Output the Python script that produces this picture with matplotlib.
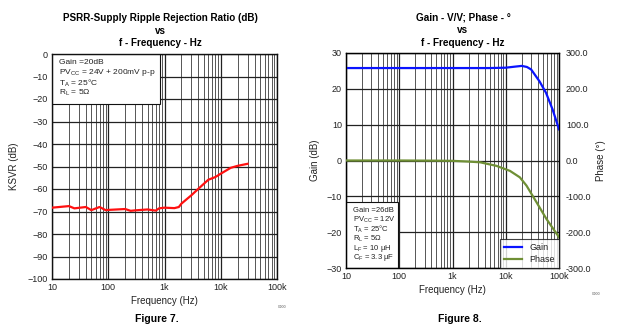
import matplotlib
matplotlib.use("Agg")
import matplotlib.pyplot as plt
from matplotlib.patches import Rectangle
import numpy as np

plt.rcParams['font.family'] = ['Liberation Sans', 'DejaVu Sans']
plt.rcParams['mathtext.fontset'] = 'custom'
plt.rcParams['mathtext.rm'] = 'Liberation Sans'
plt.rcParams['mathtext.it'] = 'Liberation Sans'

# Figure 7 data: KSVR vs frequency
psrr_freq = [10, 20, 25, 40, 50, 70, 90, 100, 200, 250, 300, 500, 700, 800, 1000, 1500, 1800,
             2000, 3000, 4000, 6000, 8000, 10000, 15000, 20000, 30000]
psrr_db = [-68.3, -67.6, -68.6, -68.0, -69.4, -68.0, -69.4, -69.3, -68.9, -69.7, -69.5, -69.1,
           -69.6, -68.6, -68.3, -68.5, -68.0, -66.5, -62.8, -59.9, -55.9, -54.7, -53.2, -50.6,
           -49.7, -48.8]

# Figure 8 data: Gain and Phase vs frequency
gain_freq = [10, 100, 1000, 5000, 10000, 15000, 20000, 25000, 30000, 43000, 57000, 76000, 100000]
gain_db = [25.8, 25.8, 25.8, 25.8, 25.9, 26.2, 26.4, 26.1, 25.4, 22.1, 18.9, 14.2, 8.7]
phase_freq = [10, 100, 500, 1000, 2000, 3300, 6700, 12000, 18400, 24500, 38000, 58000, 100000]
phase_deg = [0, 0, -0.5, -1, -3, -5, -15, -29, -47, -70, -117, -163, -214]

xticks = [10, 100, 1000, 10000, 100000]
xtick_labels = ['10', '100', '1k', '10k', '100k']

notes7 = ['Gain =20dB', 'PV$_{\\mathrm{CC}}$ = 24V + 200mV p-p', 'T$_{\\mathrm{A}}$ = 25°C',
          'R$_{\\mathrm{L}}$ = 5Ω']
notes8 = ['Gain =26dB', 'PV$_{\\mathrm{CC}}$ = 12V', 'T$_{\\mathrm{A}}$ = 25°C', 'R$_{\\mathrm{L}}$ = 5Ω',
          'L$_{\\mathrm{F}}$ = 10 µH', 'C$_{\\mathrm{F}}$ = 3.3 µF']

W, H = 620, 331
fig = plt.figure(figsize=(W / 100, H / 100), dpi=100)

def ax_rect(x0, y0, x1, y1):
    return [x0 / W, 1 - y1 / H, (x1 - x0) / W, (y1 - y0) / H]

def style_log_axes(ax):
    ax.set_xscale('log')
    ax.set_xlim(10, 100000)
    ax.set_xticks(xticks)
    ax.set_xticklabels(xtick_labels)
    ax.set_xticks([m * d for d in [10, 100, 1000, 10000] for m in range(2, 10)], minor=True)
    ax.set_axisbelow(True)
    ax.grid(True, which='major', axis='both', color='#222222', lw=0.9)
    ax.grid(True, which='minor', axis='x', color='#555555', lw=0.7)
    ax.tick_params(which='both', length=0, labelsize=6.5, pad=3, colors='#222222')
    for s in ax.spines.values():
        s.set_color('#111111')
        s.set_linewidth(1.0)

# ---------------- Figure 7 ----------------
ax1 = fig.add_axes(ax_rect(52, 54, 277, 279))
style_log_axes(ax1)
ax1.set_ylim(-100, 0)
ax1.set_yticks(np.arange(-100, 1, 10))
ax1.plot(psrr_freq, psrr_db, color='#ff1010', lw=1.6, zorder=3)
ax1.set_xlabel('Frequency (Hz)', fontsize=7, labelpad=3, color='#222222')
ax1.set_ylabel('KSVR (dB)', fontsize=7, labelpad=6, color='#222222')
ax1.add_patch(Rectangle((0, 0.78), 0.48, 0.22, transform=ax1.transAxes,
                        facecolor='white', edgecolor='#111111', lw=0.8, zorder=1))
for i, s in enumerate(notes7):
    ax1.text(0.031, 0.963 - i * 0.046, s, transform=ax1.transAxes, fontsize=6, va='center',
             ha='left', color='#222222', zorder=4)
fig.text(160 / W, 1 - 18 / H, 'PSRR-Supply Ripple Rejection Ratio (dB)', ha='center', va='center',
         fontsize=7.1, fontweight='bold')
fig.text(160 / W, 1 - 30.5 / H, 'vs', ha='center', va='center', fontsize=7.1, fontweight='bold')
fig.text(160 / W, 1 - 43 / H, 'f - Frequency - Hz', ha='center', va='center', fontsize=7.1,
         fontweight='bold')
fig.text(157 / W, 1 - 319 / H, 'Figure 7.', ha='center', va='center', fontsize=7.5, fontweight='bold')
fig.text(282 / W, 1 - 307 / H, 'G000', ha='center', va='center', fontsize=2.5, color='#555555')

# ---------------- Figure 8 ----------------
ax2 = fig.add_axes(ax_rect(346, 53, 559, 268))
style_log_axes(ax2)
ax2.set_ylim(-30, 30)
ax2.set_yticks(np.arange(-30, 31, 10))
ax2.plot(gain_freq, gain_db, color='#0a14ff', lw=1.6, zorder=3, label='Gain')
ax2.set_xlabel('Frequency (Hz)', fontsize=7, labelpad=3, color='#222222')
ax2.set_ylabel('Gain (dB)', fontsize=7, labelpad=5, color='#222222')
ax3 = ax2.twinx()
ax3.set_ylim(-300, 300)
ax3.set_yticks(np.arange(-300, 301, 100))
ax3.set_yticklabels([f'{v:.1f}' for v in np.arange(-300, 301, 100)])
ax3.tick_params(length=0, labelsize=6.5, pad=5, colors='#222222')
ax3.plot(phase_freq, phase_deg, color='#6f8f35', lw=1.6, zorder=3, label='Phase')
ax3.set_ylabel('Phase (°)', fontsize=7, labelpad=3, color='#222222')
ax2.add_patch(Rectangle((0, 0), 0.244, 0.307, transform=ax2.transAxes,
                        facecolor='white', edgecolor='#111111', lw=0.8, zorder=1))
for i, s in enumerate(notes8):
    ax2.text(0.034, 0.268 - i * 0.044, s, transform=ax2.transAxes, fontsize=5.5, va='center',
             ha='left', color='#222222', zorder=4)
h1, l1 = ax2.get_legend_handles_labels()
h2, l2 = ax3.get_legend_handles_labels()
leg = ax3.legend(h1 + h2, l1 + l2, loc='lower right', fontsize=6.5, frameon=True, fancybox=False,
                 borderaxespad=0, handlelength=2.0, borderpad=0.45, labelspacing=0.3,
                 handletextpad=0.8)
leg.get_frame().set_edgecolor('#111111')
leg.get_frame().set_linewidth(0.8)
for t in leg.get_texts():
    t.set_color('#222222')

fig.text(463 / W, 1 - 17 / H, 'Gain - V/V; Phase - °', ha='center', va='center',
         fontsize=7.2, fontweight='bold')
fig.text(463 / W, 1 - 30 / H, 'vs', ha='center', va='center', fontsize=7.2, fontweight='bold')
fig.text(463 / W, 1 - 43 / H, 'f - Frequency - Hz', ha='center', va='center', fontsize=7.2,
         fontweight='bold')
fig.text(460 / W, 1 - 319 / H, 'Figure 8.', ha='center', va='center', fontsize=7.5, fontweight='bold')
fig.text(596 / W, 1 - 294 / H, 'G000', ha='center', va='center', fontsize=2.5, color='#555555')

fig.savefig('out.png', dpi=100, facecolor='white')
